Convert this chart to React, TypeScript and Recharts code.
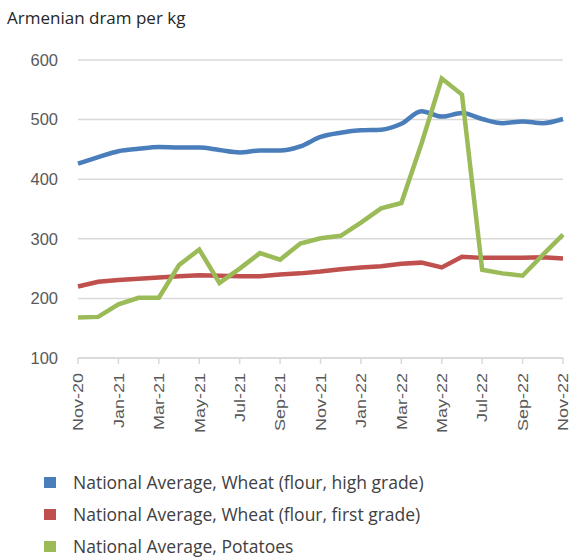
import React from 'react';
import {
    LineChart,
    Line,
    XAxis,
    YAxis,
    CartesianGrid,
} from 'recharts';

const months = [
    'Nov-20', 'Dec-20', 'Jan-21', 'Feb-21', 'Mar-21', 'Apr-21', 'May-21',
    'Jun-21', 'Jul-21', 'Aug-21', 'Sep-21', 'Oct-21', 'Nov-21', 'Dec-21',
    'Jan-22', 'Feb-22', 'Mar-22', 'Apr-22', 'May-22', 'Jun-22', 'Jul-22',
    'Aug-22', 'Sep-22', 'Oct-22', 'Nov-22',
];

const wheatHigh = [
    426, 437, 447, 451, 454, 453, 453, 449, 445, 448, 448, 455, 471,
    478, 482, 483, 493, 514, 505, 511, 501, 494, 497, 494, 501,
];

const wheatFirst = [
    220, 228, 231, 233, 235, 237, 239, 238, 237, 237, 240, 242, 245,
    249, 252, 254, 258, 260, 252, 270, 268, 268, 268, 269, 267,
];

const potatoes = [
    168, 169, 190, 201, 201, 256, 282, 226, 250, 276, 265, 292, 301,
    305, 327, 351, 360, 460, 569, 542, 248, 242, 238, 273, 307,
];

const yTicks = [100, 200, 300, 400, 500, 600];

const seriesNames = [
    'National Average, Wheat (flour, high grade)',
    'National Average, Wheat (flour, first grade)',
    'National Average, Potatoes',
];

const colors = ['#4a7ebb', '#c0504d', '#9bbb59'];

const chartData = months.map((month, i) => ({
    month,
    high: wheatHigh[i],
    first: wheatFirst[i],
    potatoes: potatoes[i],
}));

const XTick = ({ x, y, payload }: any) => (
    <g transform={`translate(${x},${y + 7})`}>
        <text
            transform="rotate(-90) scale(1.2,1)"
            x={0}
            y={0}
            dy="0.35em"
            textAnchor="end"
            fill="#595959"
            fontSize={15}
            fontFamily="'Liberation Sans', Arial, sans-serif"
        >
            {payload.value}
        </text>
    </g>
);

export default function App() {
    return (
        <div
            style={{
                position: 'absolute',
                left: 0,
                top: 0,
                width: 574,
                height: 558,
                background: '#fff',
                overflow: 'hidden',
            }}
        >
            <div
                style={{
                    position: 'absolute',
                    left: 7,
                    top: 6,
                    fontFamily: "'Open Sans', sans-serif",
                    fontSize: 17,
                    color: '#262626',
                    whiteSpace: 'nowrap',
                }}
            >
                Armenian dram per kg
            </div>

            <LineChart
                width={574}
                height={558}
                data={chartData}
                margin={{ top: 60, right: 11, left: 0, bottom: 120 }}
            >
                <CartesianGrid
                    vertical={false}
                    stroke="#d9d9d9"
                    strokeWidth={1.5}
                />
                <XAxis
                    dataKey="month"
                    interval={1}
                    height={80}
                    axisLine={{ stroke: '#d9d9d9', strokeWidth: 1.5 }}
                    tickLine={{ stroke: '#d9d9d9', strokeWidth: 1.5 }}
                    tickSize={6}
                    tick={<XTick />}
                />
                <YAxis
                    domain={[100, 600]}
                    ticks={yTicks}
                    width={78}
                    axisLine={false}
                    tickLine={false}
                    tickSize={0}
                    tickMargin={20}
                    tick={{
                        fill: '#595959',
                        fontSize: 16.5,
                        fontFamily: "'Liberation Sans', Arial, sans-serif",
                    }}
                />
                <Line
                    dataKey="high"
                    type="monotone"
                    stroke={colors[0]}
                    strokeWidth={4.5}
                    dot={false}
                    isAnimationActive={false}
                />
                <Line
                    dataKey="first"
                    type="linear"
                    stroke={colors[1]}
                    strokeWidth={4.5}
                    dot={false}
                    isAnimationActive={false}
                />
                <Line
                    dataKey="potatoes"
                    type="linear"
                    stroke={colors[2]}
                    strokeWidth={4.5}
                    dot={false}
                    isAnimationActive={false}
                />
            </LineChart>

            {/* legend */}
            <div
                style={{
                    position: 'absolute',
                    left: 44,
                    top: 470,
                    fontFamily: "'Open Sans', sans-serif",
                    fontSize: 17.5,
                    color: '#404040',
                }}
            >
                {seriesNames.map((name, i) => (
                    <div
                        key={name}
                        style={{
                            display: 'flex',
                            alignItems: 'center',
                            height: 24,
                            lineHeight: '24px',
                            marginBottom: 8,
                            whiteSpace: 'nowrap',
                        }}
                    >
                        <span
                            style={{
                                width: 12,
                                height: 11,
                                background: colors[i],
                                display: 'inline-block',
                                marginRight: 17,
                            }}
                        />
                        {name}
                    </div>
                ))}
            </div>
        </div>
    );
}
